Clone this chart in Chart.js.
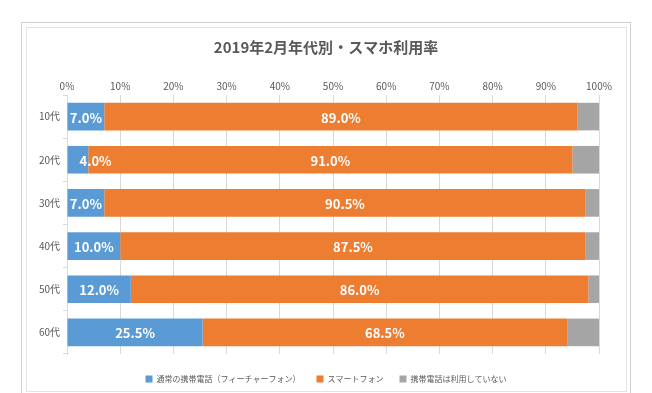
<!DOCTYPE html>
<html>
<head>
<meta charset="utf-8">
<script src="https://cdn.jsdelivr.net/npm/chart.js@4"></script>
<style>
  html, body { margin: 0; padding: 0; background: #fff; }
  #wrap { position: relative; width: 652px; height: 393px; overflow: hidden; }
  .frame { position: absolute; box-sizing: border-box; }
  #outer { left: 21px; top: 22px; width: 610px; height: 400px; border: 1px solid #d0d0d0; }
  #inner { left: 26px; top: 27px; width: 601px; height: 365px; border: 1px solid #e4e4e4; }
  canvas { position: absolute; left: 0; top: 0; }
</style>
</head>
<body>
<div id="wrap">
  <div class="frame" id="outer"></div>
  <div class="frame" id="inner"></div>
  <canvas id="chart" width="652" height="393"></canvas>
</div>
<script>
const ageGroups = ['10代', '20代', '30代', '40代', '50代', '60代'];
const featurePhone = [7.0, 4.0, 7.0, 10.0, 12.0, 25.5];
const smartphone = [89.0, 91.0, 90.5, 87.5, 86.0, 68.5];
const noPhone = [4.0, 5.0, 2.5, 2.5, 2.0, 6.0];
const seriesNames = ['通常の携帯電話（フィーチャーフォン）', 'スマートフォン', '携帯電話は利用していない'];

const FONT = '"Noto Sans CJK JP", "Noto Sans", sans-serif';
const textColor = '#595959';

// white labels in the middle of the blue and orange segments
const barLabels = {
  id: 'barLabels',
  afterDatasetsDraw(chart) {
    const ctx = chart.ctx;
    ctx.save();
    ctx.font = 'bold 13px ' + FONT;
    ctx.fillStyle = '#fff';
    ctx.textAlign = 'center';
    ctx.textBaseline = 'middle';
    [0, 1].forEach(i => {
      const meta = chart.getDatasetMeta(i);
      meta.data.forEach((bar, j) => {
        const val = chart.data.datasets[i].data[j];
        const txt = val.toFixed(1) + '%';
        const w = ctx.measureText(txt).width;
        let cx = (bar.x + bar.base) / 2;
        if (w > Math.abs(bar.x - bar.base)) cx = Math.max(cx, bar.base + 12 + w / 2);
        ctx.fillText(txt, cx, bar.y + 1);
      });
    });
    ctx.restore();
  }
};

new Chart(document.getElementById('chart'), {
  type: 'bar',
  data: {
    labels: ageGroups,
    datasets: [
      { label: seriesNames[0], data: featurePhone, backgroundColor: '#5B9BD5' },
      { label: seriesNames[1], data: smartphone, backgroundColor: '#ED7D31' },
      { label: seriesNames[2], data: noPhone, backgroundColor: '#A5A5A5' }
    ]
  },
  options: {
    indexAxis: 'y',
    responsive: false,
    animation: false,
    datasets: { bar: { categoryPercentage: 1, barPercentage: 0.64 } },
    layout: { padding: { left: 26, right: 26, top: 30, bottom: 0 } },
    plugins: {
      title: {
        display: true,
        text: '2019年2月年代別・スマホ利用率',
        color: textColor,
        font: { family: FONT, size: 15, weight: 'bold' },
        padding: { top: 8, bottom: 8 }
      },
      legend: {
        position: 'bottom',
        labels: {
          color: textColor,
          font: { family: FONT, size: 8 },
          boxWidth: 7,
          boxHeight: 7,
          padding: 16
        }
      },
      tooltip: { enabled: false }
    },
    scales: {
      x: {
        position: 'top',
        stacked: true,
        min: 0,
        max: 100,
        ticks: {
          stepSize: 10,
          color: textColor,
          font: { family: FONT, size: 10 },
          callback: v => v + '%'
        },
        grid: { color: '#d9d9d9', drawTicks: false },
        border: { display: false },
        afterFit: s => { s.height = 31; }
      },
      y: {
        stacked: true,
        ticks: {
          color: textColor,
          font: { family: FONT, size: 10 }
        },
        grid: { color: '#d9d9d9', drawOnChartArea: false, offset: true, tickLength: 4 },
        border: { color: '#d9d9d9' },
        afterFit: s => { s.width = 41; }
      },
      // empty spacers so the plot area ends where the original's does
      spacer: {
        type: 'linear',
        position: 'right',
        ticks: { display: false },
        grid: { display: false },
        border: { display: false },
        afterFit: s => { s.width = 27; }
      },
      spacerBottom: {
        type: 'linear',
        axis: 'x',
        position: 'bottom',
        ticks: { display: false },
        grid: { display: false },
        border: { display: false },
        afterFit: s => { s.height = 5; }
      }
    }
  },
  plugins: [barLabels]
});
</script>
</body>
</html>
